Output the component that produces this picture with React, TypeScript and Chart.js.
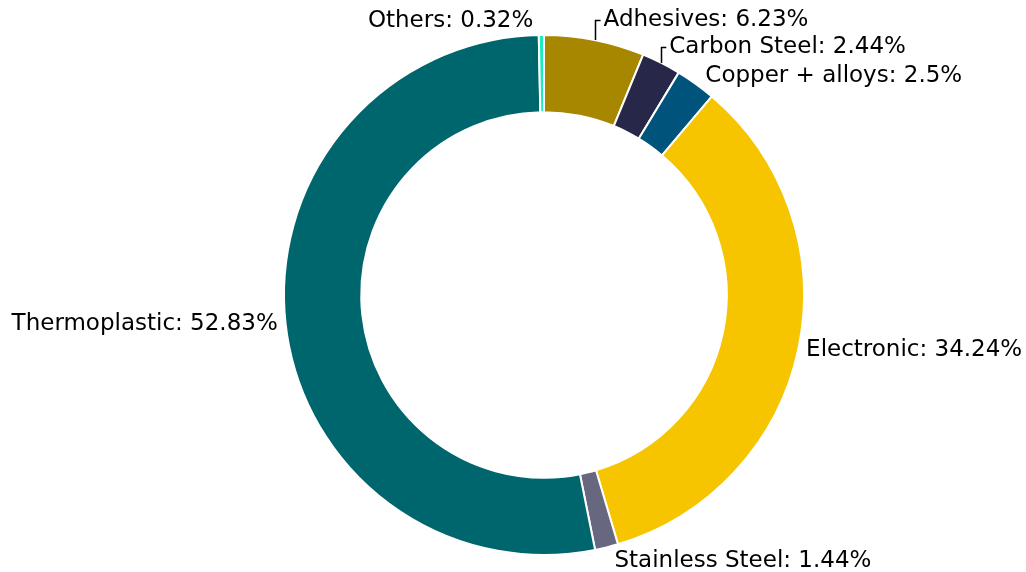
import React, { useEffect, useRef } from "react";
import { Chart, registerables } from "chart.js";

Chart.register(...registerables);

const categories = ["Adhesives", "Carbon Steel", "Copper + alloys", "Electronic", "Stainless Steel", "Thermoplastic", "Others"];
const shares = [6.23, 2.44, 2.5, 34.24, 1.44, 52.83, 0.32];
const sliceColors = ["#A88700", "#27274A", "#00537A", "#F6C500", "#67677F", "#00666E", "#1DEBBF"];

// label adjustments (pixels) for crowded labels; connector drawn when set
const labelShift: Record<string, { dx: number; dy: number; connector: boolean; fromEdge: boolean }> = {
  "Adhesives": { dx: 9, dy: -12, connector: true, fromEdge: true },
  "Carbon Steel": { dx: 8, dy: -9, connector: true, fromEdge: true },
  "Copper + alloys": { dx: 5, dy: -2, connector: false, fromEdge: false },
  "Stainless Steel": { dx: 6, dy: 6, connector: false, fromEdge: false },
  "Others": { dx: -8, dy: -6, connector: false, fromEdge: false },
};

const labelPlugin = {
  id: "outerLabels",
  afterDatasetsDraw(chart: any) {
    const ctx = chart.ctx;
    const meta = chart.getDatasetMeta(0);
    ctx.save();
    ctx.font = '23px "DejaVu Sans"';
    ctx.fillStyle = "#000";
    ctx.strokeStyle = "#000";
    ctx.lineWidth = 1.5;
    ctx.textBaseline = "middle";
    meta.data.forEach((arc: any, i: number) => {
      const { x, y, startAngle, endAngle, outerRadius } = arc.getProps(["x", "y", "startAngle", "endAngle", "outerRadius"], true);
      const mid = (startAngle + endAngle) / 2;
      const cx = Math.cos(mid);
      const cy = Math.sin(mid);
      const d = outerRadius * 1.03;
      let lx = x + cx * d;
      let ly = y + cy * d;
      const text = `${categories[i]}: ${shares[i]}%`;
      const sh = labelShift[categories[i]];
      const right = cx >= 0;
      ctx.textAlign = right ? "left" : "right";
      if (sh) {
        const ex = x + cx * outerRadius;
        const ey = y + cy * outerRadius;
        lx = (sh.fromEdge ? ex : lx) + sh.dx;
        ly = ly + sh.dy;
        if (sh.connector) {
          const px = Math.round(ex) + 0.5;
          const py = Math.round(ly) + 0.5;
          ctx.beginPath();
          ctx.moveTo(px, ey);
          ctx.lineTo(px, py);
          ctx.lineTo(lx - 3, py);
          ctx.stroke();
        }
      }
      ctx.fillText(text, lx, ly);
    });
    ctx.restore();
  },
};

export default function App() {
  const ref = useRef<HTMLCanvasElement>(null);
  useEffect(() => {
    document.body.style.margin = "0";
    const chart = new Chart(ref.current!, {
      type: "doughnut",
      data: {
        labels: categories,
        datasets: [
          {
            data: shares,
            backgroundColor: sliceColors,
            borderColor: "#ffffff",
            borderWidth: 2,
            hoverOffset: 0,
          },
        ],
      },
      options: {
        animation: false,
        responsive: false,
        cutout: "70.3%",
        layout: { padding: { top: 34, bottom: 16, left: 283, right: 221 } },
        plugins: { legend: { display: false }, tooltip: { enabled: false } },
      },
      plugins: [labelPlugin],
    });
    return () => chart.destroy();
  }, []);
  return (
    <div style={{ width: 1026, height: 572, background: "#fff" }}>
      <canvas ref={ref} width={1026} height={572} />
    </div>
  );
}
